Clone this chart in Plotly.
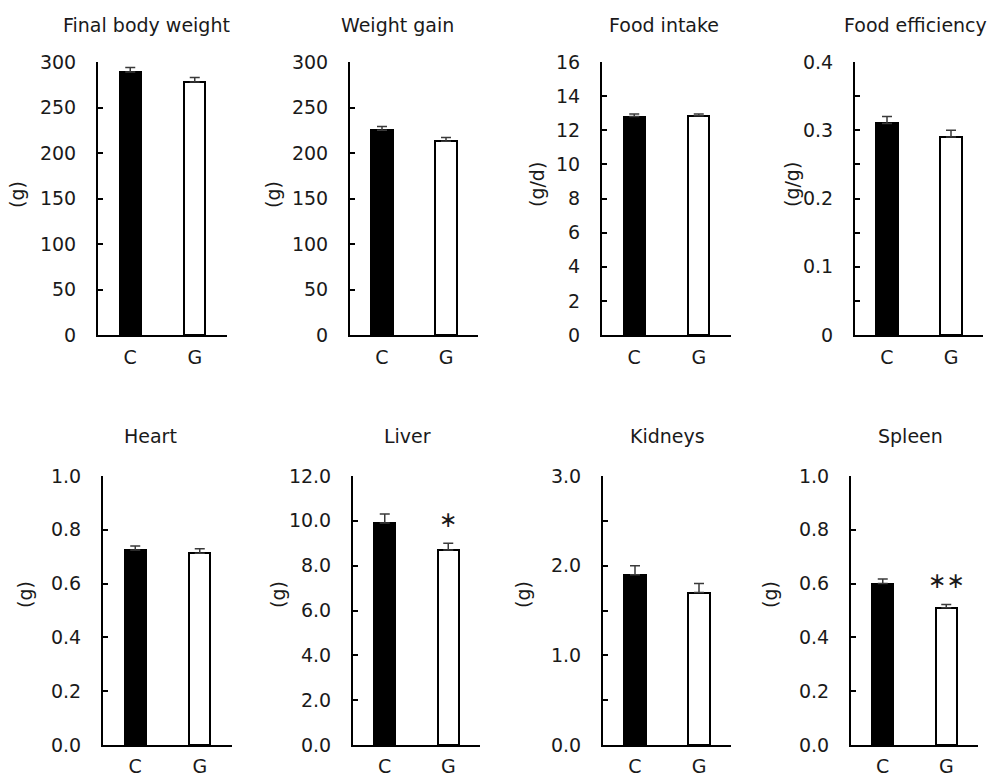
import plotly.graph_objects as go

# ---------------- data ----------------
groups = ["C", "G"]
titles = ["Final body weight", "Weight gain", "Food intake", "Food efficiency",
          "Heart", "Liver", "Kidneys", "Spleen"]
units = ["(g)", "(g)", "(g/d)", "(g/g)", "(g)", "(g)", "(g)", "(g)"]
c_mean = [289, 225, 12.8, 0.31, 0.725, 9.9, 1.9, 0.60]
g_mean = [278, 213, 12.85, 0.29, 0.713, 8.7, 1.7, 0.51]
c_sem = [5, 4, 0.15, 0.01, 0.015, 0.4, 0.1, 0.017]
g_sem = [5, 4, 0.1, 0.01, 0.017, 0.3, 0.1, 0.012]
y_max = [300, 300, 16, 0.4, 1.0, 12.0, 3.0, 1.0]
y_dtick = [50, 50, 2, 0.1, 0.2, 2.0, 1.0, 0.2]
y_minor = [None, None, None, 0.05, None, None, 0.5, None]
y_fmt = ["", "", "", "", ".1f", ".1f", ".1f", ".1f"]
signif = ["", "", "", "", "", "\u2217", "", "\u2217\u2217"]

# ---------------- layout geometry (pixels) ----------------
W, H = 991, 778
x_dom_px = [(98, 227), (350, 478), (602, 731), (855, 983),
            (103, 232), (353, 480), (603, 731), (851, 978)]
y_dom_px = [(62, 335)] * 4 + [(476, 745)] * 4
title_px = [(146, 25), (397, 25), (664, 25), (915, 25),
            (150, 436), (407, 436), (667, 436), (910, 436)]
unit_px = [(17, 195), (273, 195), (537, 185), (792, 185),
           (25, 595), (278, 595), (523, 595), (770, 595)]
xlabel_standoff = [4, 4, 4, 4, 3, 3, 3, 3]

FONT = "DejaVu Sans"
TXT = "#1a1a1a"
FS = 19

fig = go.Figure()
annotations = []
for i in range(8):
    ax = "" if i == 0 else str(i + 1)
    xref, yref = "x" + ax, "y" + ax
    fig.add_trace(go.Bar(
        x=groups, y=[c_mean[i], g_mean[i]],
        xaxis=xref, yaxis=yref, width=0.33,
        marker=dict(color=["black", "white"], line=dict(color="black", width=2)),
        error_y=dict(type="data", array=[c_sem[i], g_sem[i]], arrayminus=[0, 0],
                     symmetric=False, color="#3a3a3a", thickness=1.5, width=5),
        showlegend=False,
    ))
    x0, x1 = x_dom_px[i]
    yt, yb = y_dom_px[i]
    xa = dict(domain=[x0 / W, x1 / W], anchor=yref, type="category",
              range=[-0.5, 1.5], showline=True, linecolor="black", linewidth=2,
              ticks="", showgrid=False, zeroline=False,
              ticklabelstandoff=xlabel_standoff[i], automargin=False,
              tickfont=dict(family=FONT, size=FS, color=TXT), fixedrange=True)
    ya = dict(domain=[1 - yb / H, 1 - yt / H], anchor=xref, range=[0, y_max[i]],
              dtick=y_dtick[i], tick0=0, showline=True, linecolor="black", linewidth=2,
              ticks="inside", ticklen=5, tickwidth=1.5, tickcolor="black",
              showgrid=False, zeroline=False, ticklabelstandoff=16,
              tickformat=y_fmt[i], automargin=False,
              tickfont=dict(family=FONT, size=FS, color=TXT), fixedrange=True)
    if y_minor[i] is not None:
        ya["minor"] = dict(dtick=y_minor[i], ticks="inside", ticklen=5,
                           tickwidth=1.5, tickcolor="black", showgrid=False)
    fig.update_layout(**{"xaxis" + ax: xa, "yaxis" + ax: ya})

    tx, ty = title_px[i]
    annotations.append(dict(text=titles[i], x=tx / W, y=1 - ty / H, xref="paper",
                            yref="paper", showarrow=False, xanchor="center",
                            yanchor="middle",
                            font=dict(family=FONT, size=FS, color=TXT)))
    ux, uy = unit_px[i]
    annotations.append(dict(text=units[i], x=ux / W, y=1 - uy / H, xref="paper",
                            yref="paper", showarrow=False, textangle=-90,
                            xanchor="center", yanchor="middle",
                            font=dict(family=FONT, size=FS, color=TXT)))
    if signif[i]:
        annotations.append(dict(text=signif[i], x="G",
                                y=g_mean[i] + g_sem[i],
                                xref=xref, yref=yref, showarrow=False,
                                yanchor="middle", yshift=24,
                                font=dict(family=FONT, size=22, color=TXT)))

fig.update_layout(width=W, height=H, margin=dict(l=0, r=0, t=0, b=0, autoexpand=False),
                  paper_bgcolor="white", plot_bgcolor="white",
                  annotations=annotations, bargap=0)
fig.write_html("out.html")
